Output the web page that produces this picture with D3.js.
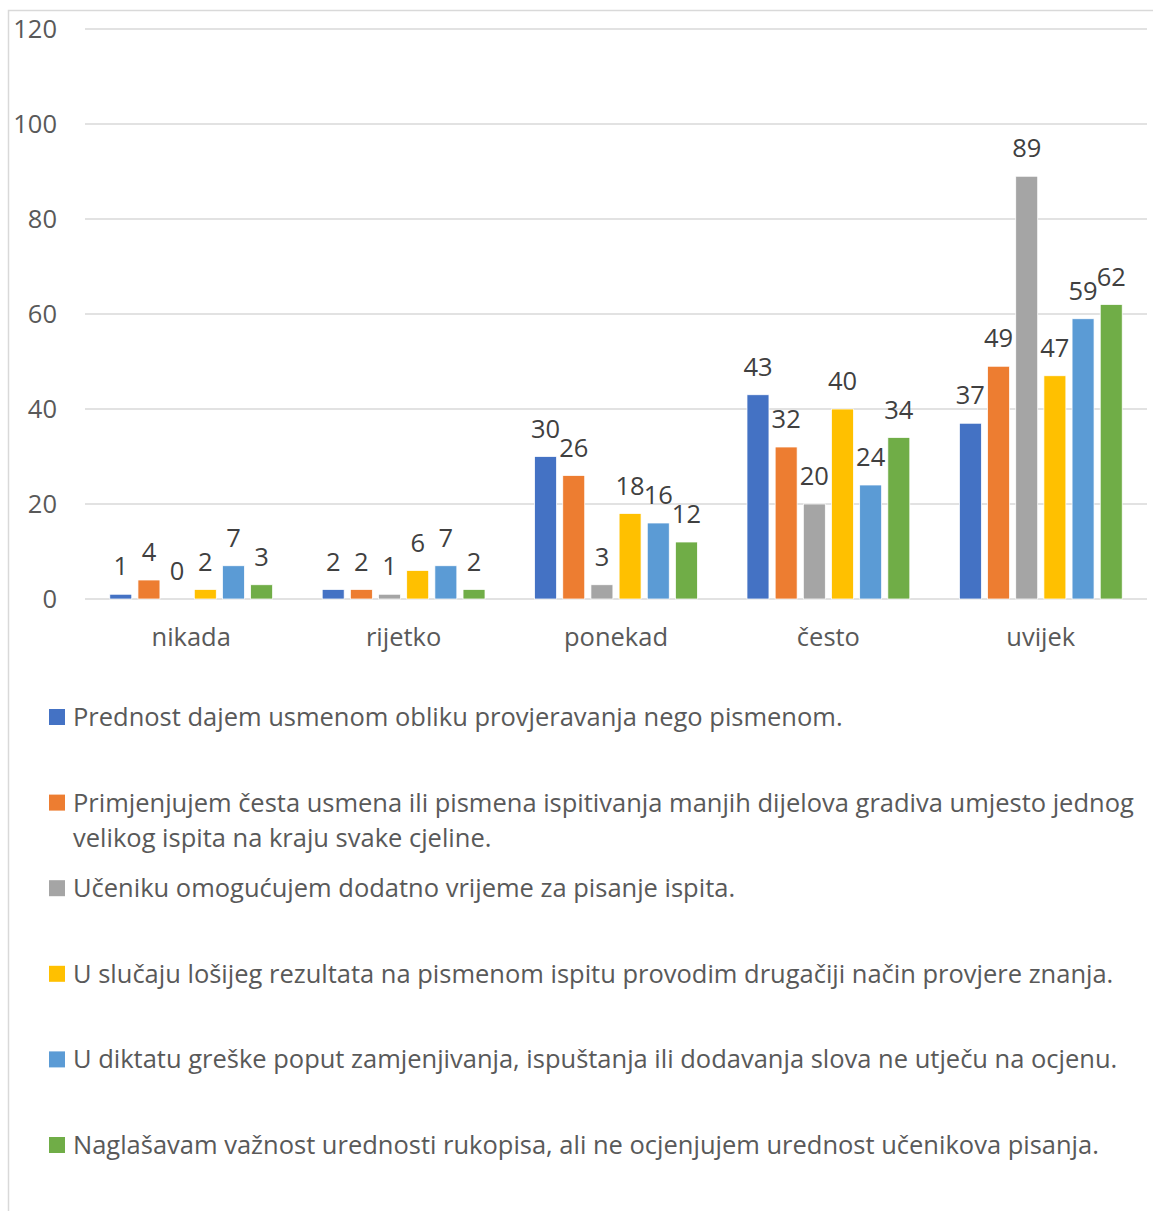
<!DOCTYPE html>
<style>
  body { margin: 0; background: #fff; }
  svg { font-family: "Open Sans", sans-serif; }
  .grid line { stroke: #d9d9d9; stroke-width: 1.5; }
  .ytick { fill: #595959; }
  .xtick { fill: #595959; }
  .lbl { fill: #404040; }
  .legend text { fill: #595959; }
</style>
<body>
</body>
<script src="https://cdn.jsdelivr.net/npm/d3@7"></script>
<script>
  const categories = ['nikada', 'rijetko', 'ponekad', 'često', 'uvijek'];
  const series = [
    ['Prednost dajem usmenom obliku provjeravanja nego pismenom.'],
    ['Primjenjujem česta usmena ili pismena ispitivanja manjih dijelova gradiva umjesto jednog',
     'velikog ispita na kraju svake cjeline.'],
    ['Učeniku omogućujem dodatno vrijeme za pisanje ispita.'],
    ['U slučaju lošijeg rezultata na pismenom ispitu provodim drugačiji način provjere znanja.'],
    ['U diktatu greške poput zamjenjivanja, ispuštanja ili dodavanja slova ne utječu na ocjenu.'],
    ['Naglašavam važnost urednosti rukopisa, ali ne ocjenjujem urednost učenikova pisanja.'],
  ];
  const colors = ['#4472c4', '#ed7d31', '#a5a5a5', '#ffc000', '#5b9bd5', '#70ad47'];
  // values per series, one per category
  const values = [
    [1, 2, 30, 43, 37],
    [4, 2, 26, 32, 49],
    [0, 1, 3, 20, 89],
    [2, 6, 18, 40, 47],
    [7, 7, 16, 24, 59],
    [3, 2, 12, 34, 62],
  ];
  const yTicks = [0, 20, 40, 60, 80, 100, 120];

  const W = 1153, H = 1211;
  const svg = d3.select('body').append('svg')
    .attr('width', W).attr('height', H);

  // size the font so the first legend line is as wide as in the reference
  const probe = svg.append('text').style('font-size', '22px').text(series[0][0]);
  const fs = 22 * 770 / probe.node().getComputedTextLength();
  probe.remove();
  svg.style('font-size', fs + 'px');

  // chart frame
  svg.append('rect')
    .attr('x', 8.5).attr('y', 10.5)
    .attr('width', W + 10).attr('height', H + 10)
    .attr('fill', 'none').attr('stroke', '#d9d9d9').attr('stroke-width', 1.5);

  const x = d3.scaleBand().domain(categories).range([85, 1147]);
  const xs = d3.scaleBand().domain(d3.range(series.length))
    .range([0, x.bandwidth()]).paddingInner(0.22).paddingOuter(0.88);
  const y = d3.scaleLinear().domain([0, 120]).range([599, 29]);

  const grid = svg.append('g').attr('class', 'grid');
  grid.selectAll('line')
    .data(yTicks)
    .join('line')
    .attr('x1', x.range()[0]).attr('x2', x.range()[1])
    .attr('y1', d => y(d)).attr('y2', d => y(d));

  svg.append('g').selectAll('text')
    .data(yTicks)
    .join('text')
    .attr('class', 'ytick')
    .attr('x', 57)
    .attr('y', d => y(d) + 9)
    .attr('text-anchor', 'end')
    .text(d => d);

  svg.append('g').selectAll('text')
    .data(categories)
    .join('text')
    .attr('class', 'xtick')
    .attr('x', d => x(d) + x.bandwidth() / 2)
    .attr('y', 646)
    .attr('text-anchor', 'middle')
    .text(d => d);

  const flat = [];
  values.forEach((vals, s) => vals.forEach((v, c) => flat.push({s, c, v})));

  const bars = svg.append('g');
  bars.selectAll('rect')
    .data(flat)
    .join('rect')
    .attr('x', d => x(categories[d.c]) + xs(d.s))
    .attr('width', xs.bandwidth())
    .attr('y', d => y(d.v))
    .attr('height', d => y(0) - y(d.v))
    .attr('fill', d => colors[d.s])
    .attr('stroke', '#fff').attr('stroke-width', 0.75);

  svg.append('g').selectAll('text')
    .data(flat)
    .join('text')
    .attr('class', 'lbl')
    .attr('x', d => x(categories[d.c]) + xs(d.s) + xs.bandwidth() / 2)
    .attr('y', d => y(d.v) - 19)
    .attr('text-anchor', 'middle')
    .text(d => d.v);

  // legend
  const legY = d3.scaleLinear().domain([0, 5]).range([717, 1145]);
  const leg = svg.append('g').attr('class', 'legend');
  series.forEach((lines, i) => {
    const cy = legY(i);
    leg.append('rect')
      .attr('x', 49).attr('y', cy - 8)
      .attr('width', 16).attr('height', 16)
      .attr('fill', colors[i]);
    const t = leg.append('text').attr('x', 73).attr('y', cy + 9);
    lines.forEach((ln, j) => {
      t.append('tspan').attr('x', 73).attr('dy', j ? 35 : 0).text(ln);
    });
  });
</script>
